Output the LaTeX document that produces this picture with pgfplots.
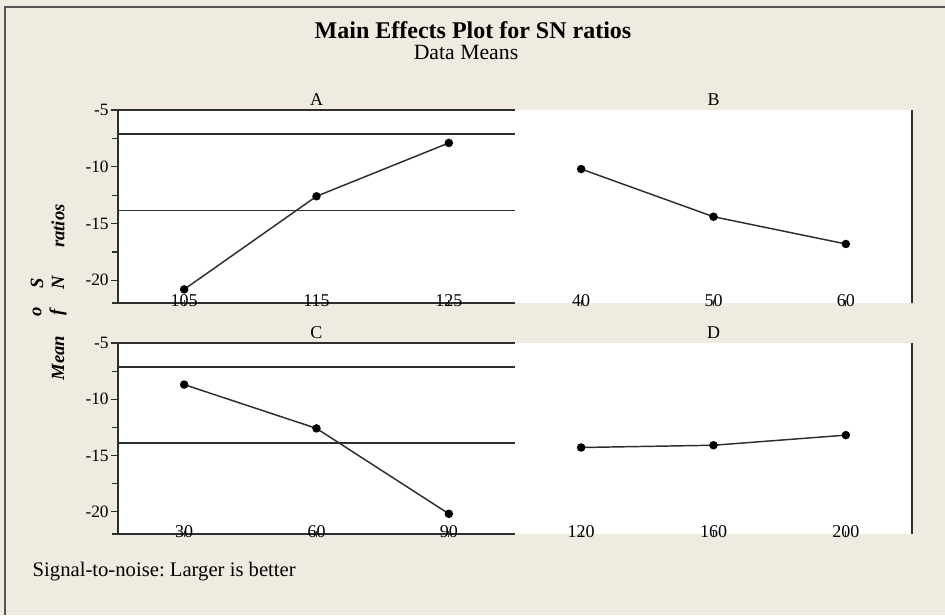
\documentclass[border=0pt]{standalone}
\usepackage{pgfplots}
\pgfplotsset{compat=1.18}
\usepackage{fontspec}
\setmainfont{Liberation Serif}
\frenchspacing
\definecolor{bg}{HTML}{EFEBE1}
\definecolor{ax}{HTML}{2E2E2E}
\definecolor{frm}{HTML}{555555}

\pgfplotstableread{
x y
0 -20.8
1 -12.6
2 -7.9
}\dataA
\pgfplotstableread{
x y
0 -10.2
1 -14.4
2 -16.8
}\dataB
\pgfplotstableread{
x y
0 -8.7
1 -12.6
2 -20.2
}\dataC
\pgfplotstableread{
x y
0 -14.3
1 -14.1
2 -13.2
}\dataD

\pgfplotsset{
  panel/.style={
    scale only axis, width=297.75pt,
    xmin=-0.5, xmax=2.5, ymin=-22, ymax=-5,
    axis background/.style={fill=white},
    xtick={0,1,2},
    xtick align=center, ytick align=outside,
    major tick length=5pt, minor tick length=4.5pt,
    every tick/.style={ax, line width=0.9pt},
    xticklabel style={font=\fontsize{13.5}{15}\selectfont, anchor=center, yshift=4.5pt},
    yticklabel style={font=\fontsize{13}{15}\selectfont, xshift=1.5pt},
    every axis title/.style={at={(0.5,1)}, anchor=south, font=\fontsize{13.5}{15}\selectfont, yshift=0pt},
    axis line style={ax, line width=1.4pt},
    clip=false,
  },
  effect/.style={ax, line width=1.1pt, mark=*, mark size=2.6pt, mark options={fill=black, draw=black}},
}

\begin{document}
\begin{tikzpicture}[x=0.75pt,y=-0.75pt]
\fill[bg] (0,0) rectangle (945,615);
\draw[frm, line width=1.6pt] (5,615) -- (5,7) -- (945,7);

\node[font=\bfseries\fontsize{18}{20}\selectfont] at (473,30) {Main Effects Plot for SN ratios};
\node[font=\fontsize{16.3}{18}\selectfont] at (466,52) {Data Means};

% Top row ---------------------------------------------------
\begin{axis}[panel, at={(88.5pt,-227.25pt)}, anchor=south west, height=144.75pt,
  axis x line*=bottom, axis y line*=left,
  ytick={-5,-10,-15,-20}, yticklabels={-5,-10,-15,-20},
  minor ytick={-7.5,-12.5,-17.5,-22},
  xticklabels={105,115,125}, title={A}]
  \draw[ax, line width=1.4pt] (rel axis cs:0,1) -- (rel axis cs:1,1);
  \draw[ax, line width=1.1pt] (axis cs:-0.5,-7.1) -- (axis cs:2.5,-7.1);
  \draw[ax, line width=1.1pt] (axis cs:-0.5,-13.85) -- (axis cs:2.5,-13.85);
  \addplot[effect] table[x=x,y=y] {\dataA};
\end{axis}

\begin{axis}[panel, at={(386.25pt,-227.25pt)}, anchor=south west, height=144.75pt,
  axis x line*=bottom, axis y line*=right,
  x axis line style={draw=none},
  ytick=\empty,
  xticklabels={40,50,60}, title={B}]
  \addplot[effect] table[x=x,y=y] {\dataB};
\end{axis}

% Bottom row ------------------------------------------------
\begin{axis}[panel, at={(88.5pt,-400.5pt)}, anchor=south west, height=143.25pt,
  axis x line*=bottom, axis y line*=left,
  ytick={-5,-10,-15,-20}, yticklabels={-5,-10,-15,-20},
  minor ytick={-7.5,-12.5,-17.5,-22},
  xticklabels={30,60,90}, title={C}]
  \draw[ax, line width=1.4pt] (rel axis cs:0,1) -- (rel axis cs:1,1);
  \draw[ax, line width=1.1pt] (axis cs:-0.5,-7.15) -- (axis cs:2.5,-7.15);
  \draw[ax, line width=1.1pt] (axis cs:-0.5,-13.9) -- (axis cs:2.5,-13.9);
  \addplot[effect] table[x=x,y=y] {\dataC};
\end{axis}

\begin{axis}[panel, at={(386.25pt,-400.5pt)}, anchor=south west, height=143.25pt,
  axis x line*=bottom, axis y line*=right,
  x axis line style={draw=none},
  ytick=\empty,
  xticklabels={120,160,200}, title={D}]
  \addplot[effect] table[x=x,y=y] {\dataD};
\end{axis}

% garbled y label pieces
\begin{scope}[every node/.style={font=\bfseries\itshape\fontsize{14}{16}\selectfont, rotate=90}]
\node at (58,226) {ratios};
\node at (58,283) {N};
\node at (37,283) {S};
\node at (58,312) {f};
\node at (37,312) {o};
\node at (58,358) {Mean};
\end{scope}

\node[anchor=west, font=\fontsize{15.5}{18}\selectfont] at (28,572) {Signal-to-noise: Larger is better};

\pgfresetboundingbox
\useasboundingbox (0,0) rectangle (945,615);
\end{tikzpicture}
\end{document}
